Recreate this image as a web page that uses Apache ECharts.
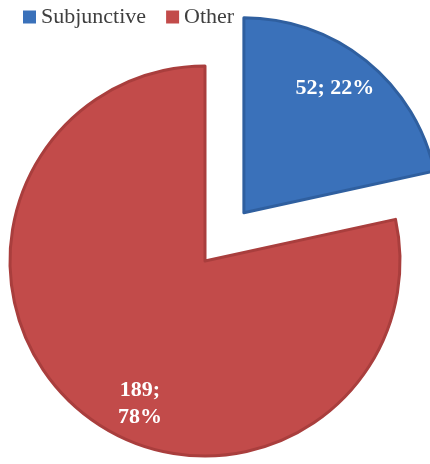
<!DOCTYPE html>
<html>
<head>
<meta charset="utf-8">
<script src="https://cdn.jsdelivr.net/npm/echarts@6/dist/echarts.min.js"></script>
<style>
  html, body { margin: 0; padding: 0; background: #ffffff; }
  #chart { width: 430px; height: 464px; }
</style>
</head>
<body>
<div id="chart"></div>
<script>
// Mood categories and their counts
const categories = ['Subjunctive', 'Other'];
const counts = [52, 189];
const sliceColors = ['#3a71ba', '#c24b4a'];
const edgeColors = ['#2f5f9f', '#a93e3d'];
const labelFormats = ['{c}; {d}%', '{c};\n{d}%'];
// Label nudges from the default inside position
const labelShift = [[28, -46], [-2, 65]];

const chart = echarts.init(document.getElementById('chart'), null, { renderer: 'canvas' });

const data = categories.map((name, i) => ({
  name: name,
  value: counts[i],
  selected: i === 0,
  itemStyle: { color: sliceColors[i], borderColor: edgeColors[i], borderWidth: 3 },
  label: { formatter: labelFormats[i] }
}));

chart.setOption({
  animation: false,
  legend: {
    data: categories,
    left: 18,
    top: 1,
    icon: 'rect',
    itemWidth: 13,
    itemHeight: 13,
    itemGap: 20,
    itemStyle: { borderWidth: 0 },
    textStyle: { fontFamily: 'Liberation Serif', fontSize: 22, color: '#3f3f3f' },
    selectedMode: false
  },
  series: [{
    type: 'pie',
    center: [205, 261],
    radius: 195,
    startAngle: 90,
    clockwise: true,
    selectedMode: 'single',
    selectedOffset: 62,
    percentPrecision: 0,
    avoidLabelOverlap: false,
    emphasis: { disabled: true },
    label: {
      show: true,
      position: 'inside',
      color: '#ffffff',
      fontFamily: 'Liberation Serif',
      fontWeight: 'bold',
      fontSize: 22,
      lineHeight: 27
    },
    labelLine: { show: false },
    labelLayout: function (params) {
      const s = labelShift[params.dataIndex];
      return { dx: s[0], dy: s[1] };
    },
    data: data
  }]
});
</script>
</body>
</html>
